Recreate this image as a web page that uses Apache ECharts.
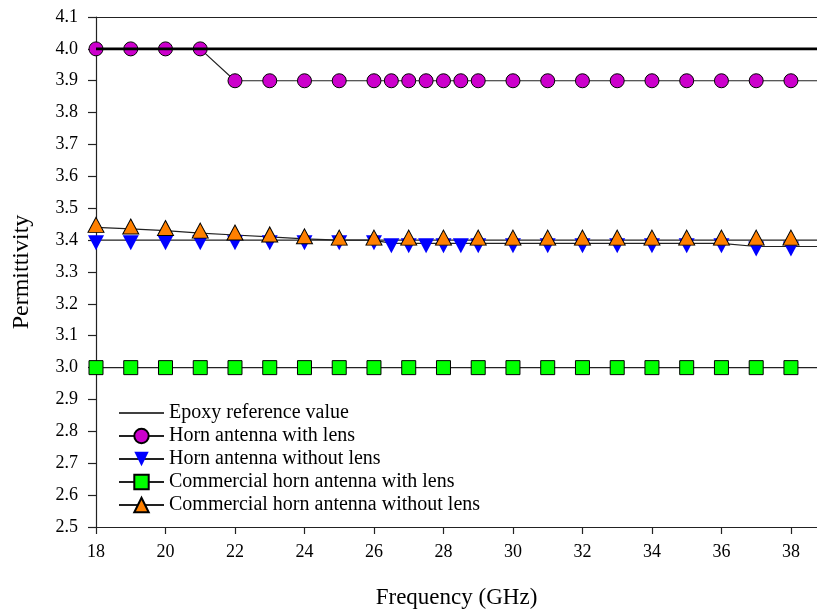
<!DOCTYPE html>
<html>
<head>
<meta charset="utf-8">
<script src="https://cdn.jsdelivr.net/npm/echarts@6/dist/echarts.min.js"></script>
<style>
  html, body { margin: 0; padding: 0; background: #fff; }
  #chart { width: 817px; height: 612px; }
</style>
</head>
<body>
<div id="chart"></div>
<script>
// Frequency samples (GHz)
const freqInt = [18, 19, 20, 21, 22, 23, 24, 25, 26, 27, 28, 29, 30, 31, 32, 33, 34, 35, 36, 37, 38, 39];
const freqFine = [18, 19, 20, 21, 22, 23, 24, 25, 26, 26.5, 27, 27.5, 28, 28.5, 29, 30, 31, 32, 33, 34, 35, 36, 37, 38, 39];
const xTicks = [18, 20, 22, 24, 26, 28, 30, 32, 34, 36, 38];

// Permittivity values
const epoxyFreq = [18, 39];
const epoxyValue = [4.0, 4.0];
const hornWithLens = [4.0, 4.0, 4.0, 4.0, 3.9, 3.9, 3.9, 3.9, 3.9, 3.9, 3.9, 3.9, 3.9, 3.9, 3.9, 3.9, 3.9, 3.9, 3.9, 3.9, 3.9, 3.9, 3.9, 3.9, 3.9];
const hornWithoutLens = [3.40, 3.40, 3.40, 3.40, 3.40, 3.40, 3.40, 3.40, 3.40, 3.39, 3.39, 3.39, 3.39, 3.39, 3.39, 3.39, 3.39, 3.39, 3.39, 3.39, 3.39, 3.39, 3.38, 3.38, 3.38];
const commercialWithLens = [3.0, 3.0, 3.0, 3.0, 3.0, 3.0, 3.0, 3.0, 3.0, 3.0, 3.0, 3.0, 3.0, 3.0, 3.0, 3.0, 3.0, 3.0, 3.0, 3.0, 3.0, 3.0];
const commercialWithoutLens = [3.44, 3.435, 3.43, 3.422, 3.416, 3.41, 3.404, 3.40, 3.40, 3.40, 3.40, 3.40, 3.40, 3.40, 3.40, 3.40, 3.40, 3.40, 3.40, 3.40, 3.40, 3.40];

const seriesNames = [
  'Epoxy reference value',
  'Horn antenna with lens',
  'Horn antenna without lens',
  'Commercial horn antenna with lens',
  'Commercial horn antenna without lens'
];

const pairs = (xs, ys) => xs.map((x, i) => [x, ys[i]]);
const FONT = '"Liberation Serif", "Times New Roman", serif';

const markerStyle = (color) => ({ color: color, borderColor: '#000', borderWidth: 1 });
const seriesLine = { color: '#222', width: 1.2 };
const axisLineStyle = { color: '#222', width: 1.2 };

const chart = echarts.init(document.getElementById('chart'), null, { renderer: 'canvas' });

chart.setOption({
  animation: false,
  backgroundColor: '#fff',
  textStyle: { fontFamily: FONT, color: '#000' },
  grid: { left: 96, right: 0, top: 17, bottom: 85, containLabel: false, outerBoundsMode: 'none' },
  legend: {
    orient: 'vertical',
    left: 113,
    top: 398,
    itemWidth: 45,
    itemHeight: 18,
    itemGap: 3,
    textStyle: { fontFamily: FONT, fontSize: 20, color: '#000' },
    data: [
      { name: seriesNames[0], itemStyle: { opacity: 0 }, lineStyle: { width: 1.5, color: '#000' } },
      seriesNames[1],
      seriesNames[2],
      seriesNames[3],
      seriesNames[4]
    ]
  },
  xAxis: [{
    type: 'value',
    min: 18,
    max: 38.75,
    interval: 2,
    name: 'Frequency (GHz)',
    nameLocation: 'middle',
    nameGap: 59,
    nameTextStyle: { fontFamily: FONT, fontSize: 23, color: '#000' },
    axisLine: { show: true, onZero: false, lineStyle: axisLineStyle },
    axisTick: { show: true, inside: false, length: 7, customValues: xTicks, lineStyle: axisLineStyle },
    axisLabel: { customValues: xTicks, margin: 16, fontFamily: FONT, fontSize: 18, color: '#000' },
    splitLine: { show: false }
  }, {
    type: 'value',
    position: 'top',
    min: 18,
    max: 38.75,
    axisLine: { show: true, onZero: false, lineStyle: axisLineStyle },
    axisTick: { show: false },
    axisLabel: { show: false },
    splitLine: { show: false }
  }],
  yAxis: {
    type: 'value',
    min: 2.5,
    max: 4.1,
    interval: 0.1,
    name: 'Permittivity',
    nameLocation: 'middle',
    nameGap: 62,
    nameRotate: 90,
    nameTextStyle: { fontFamily: FONT, fontSize: 24, color: '#000' },
    axisLine: { show: true, onZero: false, lineStyle: axisLineStyle },
    axisTick: { show: true, inside: false, length: 8, lineStyle: axisLineStyle },
    axisLabel: { margin: 18, fontFamily: FONT, fontSize: 18, color: '#000', formatter: (v) => v.toFixed(1) },
    splitLine: { show: false }
  },
  series: [
    {
      name: seriesNames[0],
      type: 'line',
      z: 4,
      symbol: 'none',
      clip: true,
      data: pairs(epoxyFreq, epoxyValue),
      lineStyle: { color: '#000', width: 2.6 },
      itemStyle: { color: '#000' }
    },
    {
      name: seriesNames[1],
      type: 'line',
      symbol: 'circle',
      symbolSize: 14,
      clip: true,
      data: pairs(freqFine, hornWithLens),
      lineStyle: seriesLine,
      itemStyle: markerStyle('#CC00CC')
    },
    {
      name: seriesNames[2],
      type: 'line',
      symbol: 'triangle',
      symbolRotate: 180,
      symbolSize: [16, 15],
      // triangles are anchored at their centroid
      symbolOffset: [0, 2.5],
      clip: true,
      data: pairs(freqFine, hornWithoutLens),
      lineStyle: seriesLine,
      itemStyle: { color: '#0000FF', borderColor: '#0000FF', borderWidth: 0 }
    },
    {
      name: seriesNames[3],
      type: 'line',
      symbol: 'rect',
      symbolSize: 14,
      clip: true,
      data: pairs(freqInt, commercialWithLens),
      lineStyle: seriesLine,
      itemStyle: markerStyle('#00FF00')
    },
    {
      name: seriesNames[4],
      type: 'line',
      symbol: 'triangle',
      symbolSize: [16, 15],
      symbolOffset: [0, -2.5],
      clip: true,
      data: pairs(freqInt, commercialWithoutLens),
      lineStyle: seriesLine,
      itemStyle: markerStyle('#FF8000')
    }
  ]
});
</script>
</body>
</html>
